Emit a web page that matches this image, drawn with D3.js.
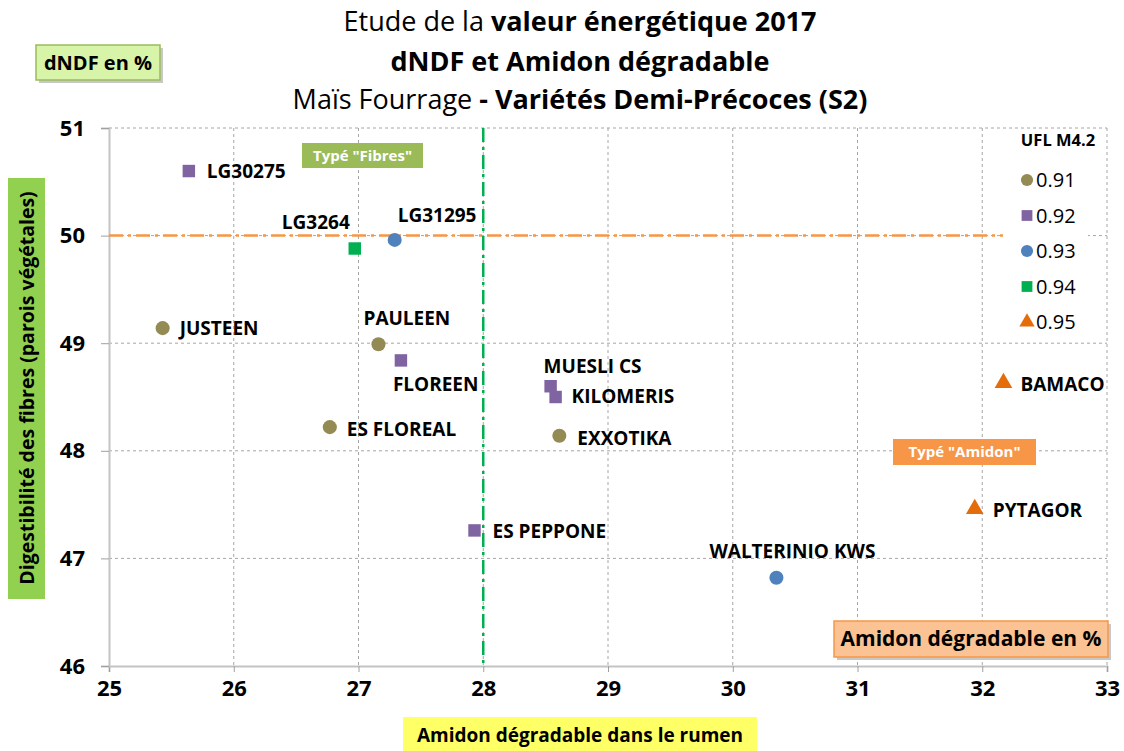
<!DOCTYPE html>
<html>
<head>
<meta charset="utf-8">
<script src="https://cdn.jsdelivr.net/npm/d3@7"></script>
<style>
  body { margin: 0; background: #fff; }
  svg { font-family: "Open Sans", Lato, sans-serif; }
  .axis text { font-family: "Open Sans", sans-serif; font-size: 22px; font-weight: bold; fill: #000; }
</style>
</head>
<body>
<script>
// varieties, values
var names = ["LG30275", "LG3264", "LG31295", "JUSTEEN", "PAULEEN", "FLOREEN", "ES FLOREAL",
             "MUESLI CS", "KILOMERIS", "EXXOTIKA", "ES PEPPONE", "WALTERINIO KWS", "BAMACO", "PYTAGOR"];
var amidon = [25.64, 26.97, 27.29, 25.43, 27.16, 27.34, 26.77, 28.54, 28.58, 28.61, 27.93, 30.35, 32.17, 31.94];
var dndf   = [50.60, 49.88, 49.96, 49.14, 48.99, 48.84, 48.22, 48.60, 48.50, 48.14, 47.26, 46.82, 48.63, 47.46];
var ufl    = ["0.92", "0.94", "0.93", "0.91", "0.91", "0.92", "0.91", "0.92", "0.92", "0.91", "0.92", "0.93", "0.95", "0.95"];
// label offsets (dx, dy, anchor) relative to the mark
var labelPos = [[18, 7, "start"], [-5, -20, "end"], [3, -18, "start"], [17, 7, "start"], [-15, -19, "start"],
                [-8, 31, "start"], [17, 9, "start"], [-7, -13, "start"], [16, 6, "start"], [18, 9, "start"],
                [18, 8, "start"], [-67, -20, "start"], [17, 8, "start"], [18, 8, "start"]];

var uflLevels = ["0.91", "0.92", "0.93", "0.94", "0.95"];
var uflColors = ["#948a54", "#8064a2", "#4f81bd", "#00b050", "#e46c0a"];
var uflShapes = [d3.symbolCircle, d3.symbolSquare, d3.symbolCircle, d3.symbolSquare, d3.symbolTriangle];
var uflSizes  = [155, 155, 155, 155, 135];

var xTicks = [25, 26, 27, 28, 29, 30, 31, 32, 33];
var yTicks = [46, 47, 48, 49, 50, 51];
var seuilDndf = 50, seuilAmidon = 28;

var W = 1124, H = 751;
var svg = d3.select("body").append("svg").attr("width", W).attr("height", H);

var x = d3.scaleLinear().domain([25, 33]).range([109, 1107]);
var y = d3.scaleLinear().domain([46, 51]).range([666, 128]);

var color = d3.scaleOrdinal(uflLevels, uflColors);
var shape = d3.scaleOrdinal(uflLevels, uflShapes);
var size = d3.scaleOrdinal(uflLevels, uflSizes);

// grid
var grid = svg.append("g");
grid.selectAll("line.vx").data(xTicks.slice(1)).join("line")
  .attr("x1", d => x(d)).attr("x2", d => x(d)).attr("y1", y(51)).attr("y2", y(46))
  .attr("stroke", "#a6a6a6").attr("stroke-dasharray", "3,3");
grid.selectAll("line.hy").data(yTicks.slice(1)).join("line")
  .attr("x1", x(25)).attr("x2", x(33)).attr("y1", d => y(d)).attr("y2", d => y(d))
  .attr("stroke", "#a6a6a6").attr("stroke-dasharray", "3,3");

// axes
var xAxis = svg.append("g").attr("class", "axis").attr("transform", "translate(0," + y(46) + ")")
  .call(d3.axisBottom(x).tickValues(xTicks).tickFormat(d3.format("d")).tickSize(6).tickPadding(8));
var yAxis = svg.append("g").attr("class", "axis").attr("transform", "translate(" + x(25) + ",0)")
  .call(d3.axisLeft(y).tickValues(yTicks).tickFormat(d3.format("d")).tickSize(8).tickPadding(16));
[xAxis, yAxis].forEach(function(a) {
  a.attr("font-size", null).attr("font-family", null);
  a.select(".domain").attr("stroke", "#c4c4c4").attr("stroke-width", 2);
  a.selectAll(".tick line").attr("stroke", "#a0a0a0");
});

// threshold lines
svg.append("line")
  .attr("x1", x(25)).attr("x2", x(32.4)).attr("y1", y(seuilDndf)).attr("y2", y(seuilDndf))
  .attr("stroke", "#f79646").attr("stroke-width", 2.5).attr("stroke-dasharray", "14,5,3,5");
svg.append("line")
  .attr("x1", x(seuilAmidon)).attr("x2", x(seuilAmidon)).attr("y1", y(51)).attr("y2", y(46))
  .attr("stroke", "#00b050").attr("stroke-width", 2.5).attr("stroke-dasharray", "14,5,3,5");

// boxes
function box(bx, by, bw, bh, fill, stroke, txt, tcolor, fs, shadow) {
  var g = svg.append("g");
  if (shadow) g.append("rect").attr("x", bx + 3).attr("y", by + 3).attr("width", bw).attr("height", bh).attr("fill", "#c8c8c8");
  g.append("rect").attr("x", bx).attr("y", by).attr("width", bw).attr("height", bh)
    .attr("fill", fill).attr("stroke", stroke || "none").attr("stroke-width", 1.5);
  g.append("text").attr("x", bx + bw / 2).attr("y", by + bh / 2).attr("dy", "0.35em")
    .attr("text-anchor", "middle").attr("font-weight", "bold").attr("font-size", fs)
    .attr("fill", tcolor).text(txt);
  return g;
}
box(36, 45, 124, 35, "#d7f4a9", "#9bbb59", "dNDF en %", "#000", 20, true);
box(302, 143, 121, 25, "#9bbb59", null, "Typé \"Fibres\"", "#fff", 15, false);
box(893, 439, 143, 26, "#f79646", null, "Typé \"Amidon\"", "#fff", 15, false);
box(834, 621, 274, 36, "#fbc393", "#f79646", "Amidon dégradable en %", "#000", 21, true);
box(403, 717, 354, 36, "#ffff66", null, "Amidon dégradable dans le rumen", "#000", 19, false);

// y label box (rotated)
svg.append("rect").attr("x", 8).attr("y", 178).attr("width", 37).attr("height", 421).attr("fill", "#92d050");
svg.append("text").attr("transform", "translate(27,388) rotate(-90)").attr("dy", "0.35em")
  .attr("text-anchor", "middle").attr("font-weight", "bold").attr("font-size", 19.5)
  .text("Digestibilité des fibres (parois végétales)");

// title
var title = svg.append("text").attr("text-anchor", "middle").attr("font-size", 27).attr("fill", "#000");
var t1 = title.append("tspan").attr("x", 580).attr("y", 31);
t1.append("tspan").text("Etude de la ");
t1.append("tspan").attr("font-weight", "bold").text("valeur énergétique 2017");
title.append("tspan").attr("x", 580).attr("y", 71).attr("font-weight", "bold").text("dNDF et Amidon dégradable");
var t3 = title.append("tspan").attr("x", 580).attr("y", 109);
t3.append("tspan").text("Maïs Fourrage ");
t3.append("tspan").attr("font-weight", "bold").text("- Variétés Demi-Précoces (S2)");

// points
var pts = names.map(function(n, i) { return {name: n, x: amidon[i], y: dndf[i], ufl: ufl[i], lp: labelPos[i]}; });
var g = svg.append("g");
g.selectAll("path").data(pts).join("path")
  .attr("transform", d => "translate(" + x(d.x) + "," + y(d.y) + ")")
  .attr("d", d => d3.symbol(shape(d.ufl), size(d.ufl))())
  .attr("fill", d => color(d.ufl));
g.selectAll("text").data(pts).join("text")
  .attr("x", d => x(d.x) + d.lp[0]).attr("y", d => y(d.y) + d.lp[1])
  .attr("text-anchor", d => d.lp[2])
  .attr("font-size", 19).attr("font-weight", "bold").attr("fill", "#000")
  .text(d => d.name);

// legend
var leg = svg.append("g");
leg.append("rect").attr("x", 1003).attr("y", 129).attr("width", 85).attr("height", 205).attr("fill", "#fff");
leg.append("text").attr("x", 1058).attr("y", 146).attr("text-anchor", "middle")
  .attr("font-size", 16.5).attr("font-weight", "bold").text("UFL M4.2");
var items = leg.selectAll("g.item").data(uflLevels).join("g")
  .attr("transform", (d, i) => "translate(1027," + (180 + i * 35.5) + ")");
items.append("path").attr("d", d => d3.symbol(shape(d), size(d) * 0.75)()).attr("fill", d => color(d));
items.append("text").attr("x", 9).attr("dy", "0.35em").attr("font-size", 20).text(d => d);
</script>
</body>
</html>
